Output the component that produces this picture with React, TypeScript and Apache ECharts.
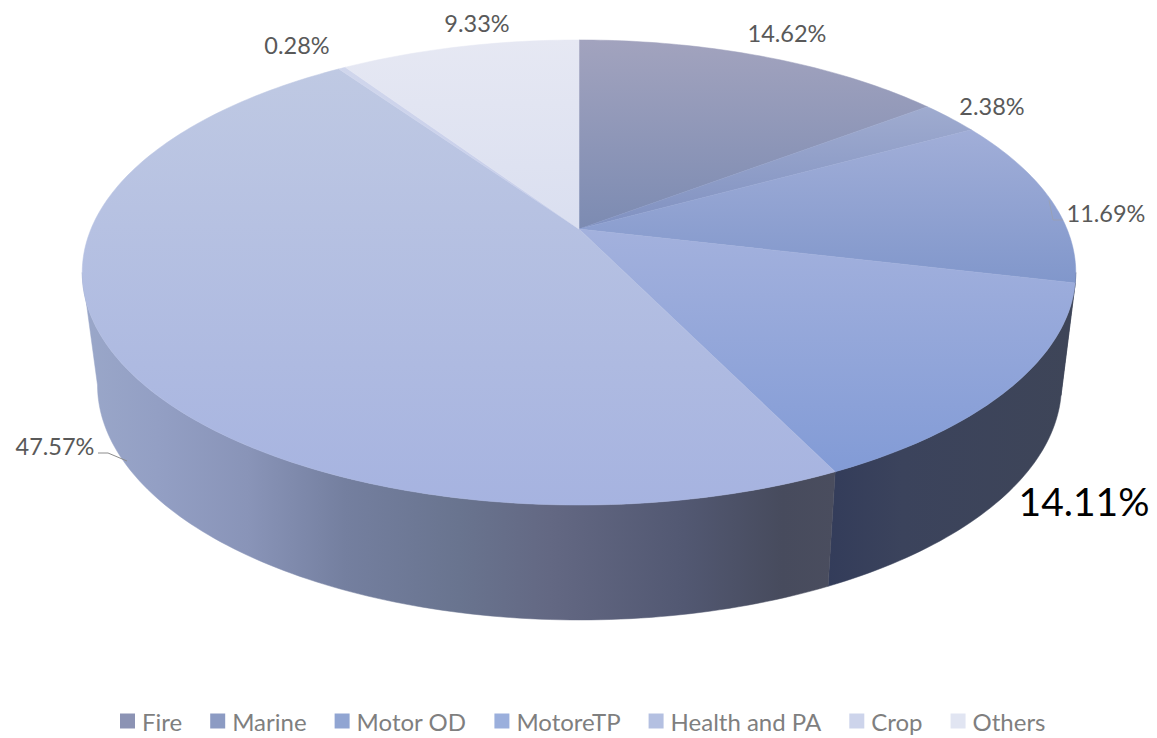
import React, { useEffect, useRef } from "react";
import * as echarts from "echarts";

const categories = ["Fire", "Marine", "Motor OD", "MotoreTP", "Health and PA", "Crop", "Others"];
const shares = [14.62, 2.38, 11.69, 14.11, 47.57, 0.28, 9.33];

const legendColors = ["#8c93b4", "#8c9bc3", "#91a5d2", "#9bafdc", "#b4c0e1", "#cdd4eb", "#e1e5f2"];

// [top of face, bottom of face] for each slice's vertical shading
const faceShades = [
  ["#a2a3be", "#7c8bb2"],
  ["#9fabcf", "#8091c1"],
  ["#a1aed8", "#8197cb"],
  ["#a3b1dd", "#829bd6"],
  ["#bfc9e3", "#a6b3e0"],
  ["#d0d6ec", "#c6cdea"],
  ["#e6e8f3", "#dadff0"],
];

// Side wall shading from its left end to its right end
const wallShades = [
  [[0, "#555b78"], [1, "#555b78"]],
  [[0, "#4c5574"], [1, "#4c5574"]],
  [[0, "#3e4558"], [1, "#3e4558"]],
  [[0, "#333c5a"], [0.3, "#3b435c"], [1, "#3e4558"]],
  [[0, "#9aa7c9"], [0.1, "#939fc4"], [0.22, "#8994b8"], [0.35, "#747f9f"], [0.5, "#69748f"], [0.62, "#636883"], [0.8, "#525872"], [0.93, "#474b5d"], [1, "#4a4d5e"]],
  [[0, "#9aa7c9"], [1, "#9aa7c9"]],
  [[0, "#9aa7c9"], [1, "#9aa7c9"]],
];

// Label centres and type for each slice
const labelLayout = [
  { x: 787, y: 33, size: 23.5, fill: "#595959" },
  { x: 992, y: 106, size: 23.5, fill: "#595959" },
  { x: 1106, y: 213, size: 23.5, fill: "#595959" },
  { x: 1084, y: 501, size: 39, fill: "#000000" },
  { x: 55, y: 446, size: 23.5, fill: "#595959" },
  { x: 297, y: 45, size: 23.5, fill: "#595959" },
  { x: 477, y: 23, size: 23.5, fill: "#595959" },
];

// Perspective planes of the disc's top and bottom faces
const PERSPECTIVE = 0.187;
const topPlane = { cx: 579, cy: 229, a: 488, b: 224.4 };
const bottomPlane = { cx: 579.5, cy: 341, a: 473.5, b: 226.8 };

// Angles at which the rim turns away from the viewer
const silhouetteRight = (Math.acos(-PERSPECTIVE) * 180) / Math.PI;
const silhouetteLeft = 360 - silhouetteRight;

const project = (plane: typeof topPlane, deg: number) => {
  const t = (deg * Math.PI) / 180;
  const u = Math.sin(t);
  const v = -Math.cos(t);
  const d = 1 - PERSPECTIVE * v;
  return [plane.cx + (plane.a * u) / d, plane.cy + (plane.b * v) / d];
};

const arc = (plane: typeof topPlane, from: number, to: number) => {
  const n = Math.max(2, Math.ceil(to - from));
  const pts: number[][] = [];
  for (let i = 0; i <= n; i++) pts.push(project(plane, from + ((to - from) * i) / n));
  return pts;
};

const total = shares.reduce((s, v) => s + v, 0);

const gradient = (x2: number, y2: number, stops: any[]) =>
  new echarts.graphic.LinearGradient(
    0, 0, x2, y2,
    stops.map(([offset, color]: any) => ({ offset, color }))
  );

function buildSeries() {
  let running = 0;
  return categories.map((name, i) => {
    const startDeg = (running / total) * 360;
    running += shares[i];
    const endDeg = (running / total) * 360;
    const layout = labelLayout[i];
    const wallFrom = Math.max(startDeg, silhouetteRight);
    const wallTo = Math.min(endDeg, silhouetteLeft);
    return {
      type: "custom",
      name,
      coordinateSystem: "none",
      silent: true,
      clip: false,
      itemStyle: { color: legendColors[i] },
      data: [[shares[i]]],
      renderItem: (_params: any, api: any) => {
        const value = api.value(0);
        const faceFill = gradient(0, 1, [[0, faceShades[i][0]], [1, faceShades[i][1]]]);
        const wallFill = gradient(1, 0, wallShades[i]);
        const children: any[] = [];
        if (wallTo > wallFrom) {
          children.push({
            type: "polygon",
            z2: 1,
            shape: {
              points: [...arc(topPlane, wallFrom, wallTo), ...arc(bottomPlane, wallFrom, wallTo).reverse()],
            },
            style: { fill: wallFill, stroke: wallFill, lineWidth: 0.5 },
          });
        }
        children.push(
          {
            type: "polygon",
            z2: 2,
            shape: { points: [[topPlane.cx, topPlane.cy], ...arc(topPlane, startDeg, endDeg)] },
            style: { fill: faceFill, stroke: faceFill, lineWidth: 0.5 },
          },
          {
            type: "text",
            z2: 5,
            style: {
              x: layout.x,
              y: layout.y,
              text: `${value.toFixed(2)}%`,
              fill: layout.fill,
              font: `${layout.size}px Lato, sans-serif`,
              textAlign: "center",
              textVerticalAlign: "middle",
            },
          }
        );
        return { type: "group", children };
      },
    };
  });
}

export default function App() {
  const ref = useRef<HTMLDivElement>(null);
  useEffect(() => {
    const chart = echarts.init(ref.current!, undefined, { renderer: "svg" });
    chart.setOption({
      animation: false,
      backgroundColor: "#ffffff",
      color: legendColors,
      legend: {
        data: categories,
        left: 115,
        top: 704,
        icon: "rect",
        itemWidth: 15,
        itemHeight: 15,
        itemGap: 28,
        selectedMode: false,
        textStyle: { color: "#7f7f7f", fontSize: 24, fontFamily: "Lato, sans-serif", padding: [0, 0, 0, 2] },
      },
      graphic: [
        {
          type: "polyline",
          z: 10,
          shape: { points: [[98, 453], [108, 453], [127, 461]] },
          style: { stroke: "#8c8c8c", lineWidth: 1, fill: "none" },
        },
        {
          type: "polyline",
          z: 10,
          shape: { points: [[1049, 200], [1053, 220], [1063, 220]] },
          style: { stroke: "#a89f86", lineWidth: 0.8, opacity: 0.45, fill: "none" },
        },
      ],
      series: buildSeries(),
    });
    return () => chart.dispose();
  }, []);
  return <div ref={ref} style={{ position: "absolute", left: 0, top: 0, width: 1157, height: 738 }} />;
}
